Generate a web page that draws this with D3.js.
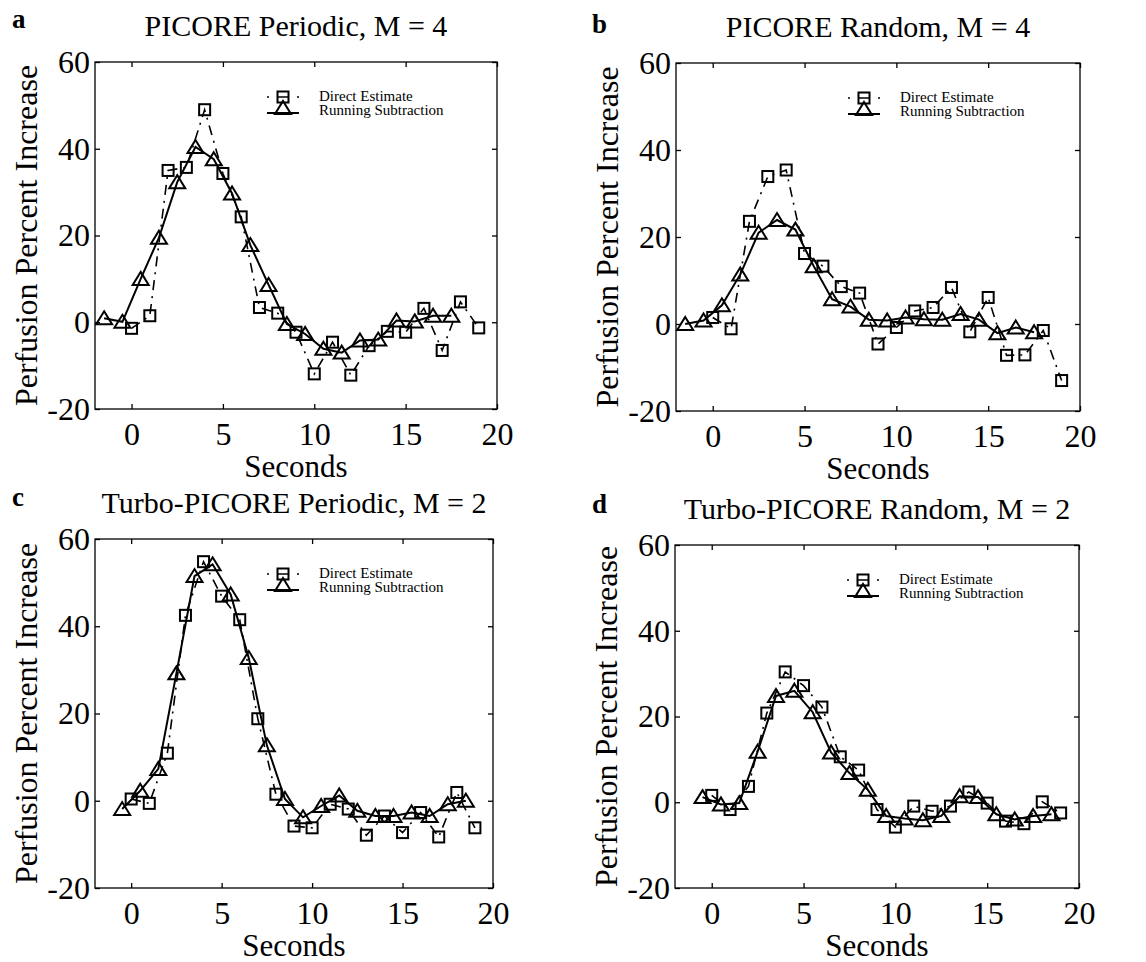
<!DOCTYPE html>
<html>
<head>
<meta charset="utf-8">
<script src="https://cdn.jsdelivr.net/npm/d3@7"></script>
<style>
  body { margin: 0; background: #fff; }
  svg { display: block; }
</style>
</head>
<body>
<div id="chart"></div>
<script>
// time points (seconds)
const timesDirect = [0, 1, 2, 3, 4, 5, 6, 7, 8, 9, 10, 11, 12, 13, 14, 15, 16, 17, 18, 19];
const timesRunningM4 = [-1.5, -0.5, 0.5, 1.5, 2.5, 3.5, 4.5, 5.5, 6.5, 7.5, 8.5, 9.5, 10.5, 11.5, 12.5, 13.5, 14.5, 15.5, 16.5, 17.5];
const timesRunningM2 = [-0.5, 0.5, 1.5, 2.5, 3.5, 4.5, 5.5, 6.5, 7.5, 8.5, 9.5, 10.5, 11.5, 12.5, 13.5, 14.5, 15.5, 16.5, 17.5, 18.5];

// a: PICORE Periodic, M = 4
const directA = [-1.4, 1.5, 35, 35.7, 49, 34.3, 24.3, 3.4, 2.1, -2.3, -11.9, -4.6, -12.2, -5.4, -2.1, -2.3, 3.2, -6.5, 4.7, -1.3];
const runningA = [0.9, 0.1, 10, 19.5, 32.3, 40.4, 37.6, 29.7, 17.8, 8.6, -0.4, -2.7, -6.1, -7, -4.2, -4, 0.4, 0.2, 1.5, 1.5];

// b: PICORE Random, M = 4
const directB = [1.5, -1.1, 23.6, 33.9, 35.4, 16.2, 13.3, 8.6, 7.1, -4.6, -0.8, 3, 3.8, 8.4, -1.8, 6.1, -7.2, -7.1, -1.5, -13];
const runningB = [0, 0.8, 4.3, 11.4, 21, 23.9, 21.7, 13.3, 5.7, 4, 1, 0.8, 1.5, 1.1, 1, 2.3, 1, -2.1, -0.8, -1.9];

// c: Turbo-PICORE Periodic, M = 2
const directC = [0.4, -0.6, 10.9, 42.5, 54.8, 46.9, 41.5, 18.8, 1.5, -5.8, -6.2, -0.8, -1.9, -7.9, -3.5, -7.3, -2.7, -8.3, 1.9, -6.2];
const runningC = [-1.9, 2.3, 7.3, 29.2, 51.5, 54.2, 47.3, 32.7, 12.7, 0.4, -3.8, -1.2, 1.2, -2.3, -3.5, -3.5, -2.7, -3.5, -0.8, 0];

// d: Turbo-PICORE Random, M = 2
const directD = [1.6, -1.7, 3.7, 20.8, 30.4, 27.2, 22.2, 10.6, 7.5, -1.7, -5.8, -0.9, -2.1, -0.9, 2.4, -0.2, -4.4, -5, 0.1, -2.5];
const runningD = [1.2, -0.5, -0.2, 11.8, 24.8, 26, 21, 11.6, 6.8, 2.9, -3.2, -3.8, -4.2, -3.2, 1.4, 1.2, -2.8, -4, -3.2, -2.8];

const panelLetters = ["a", "b", "c", "d"];
const panelTitles = ["PICORE Periodic, M = 4", "PICORE Random, M = 4", "Turbo-PICORE Periodic, M = 2", "Turbo-PICORE Random, M = 2"];
const xTicks = [0, 5, 10, 15, 20];
const yTicks = [-20, 0, 20, 40, 60];
const legendLabels = ["Direct Estimate", "Running Subtraction"];
const xLabel = "Seconds";
const yLabel = "Perfusion Percent Increase";

const serif = "'Liberation Serif', 'Times New Roman', serif";
const width = 1146, height = 962;

const svg = d3.select("#chart").append("svg")
    .attr("width", width)
    .attr("height", height);

svg.append("rect")
    .attr("width", width)
    .attr("height", height)
    .attr("fill", "#fff");

const panels = [
    {letter: panelLetters[0], title: panelTitles[0], tD: timesDirect, vD: directA, tR: timesRunningM4, vR: runningA,
     left: 95, right: 497, top: 62, bottom: 409, lx: 12, ly: 28},
    {letter: panelLetters[1], title: panelTitles[1], tD: timesDirect, vD: directB, tR: timesRunningM4, vR: runningB,
     left: 676, right: 1080, top: 63, bottom: 411, lx: 592, ly: 33},
    {letter: panelLetters[2], title: panelTitles[2], tD: timesDirect, vD: directC, tR: timesRunningM2, vR: runningC,
     left: 95, right: 493, top: 539, bottom: 888, lx: 12, ly: 506},
    {letter: panelLetters[3], title: panelTitles[3], tD: timesDirect, vD: directD, tR: timesRunningM2, vR: runningD,
     left: 675, right: 1079, top: 545, bottom: 888, lx: 592, ly: 513}
];

function square(g, cx, cy) {
    g.append("rect")
        .attr("x", cx - 5.5)
        .attr("y", cy - 5.5)
        .attr("width", 11)
        .attr("height", 11)
        .attr("fill", "none")
        .attr("stroke", "black")
        .attr("stroke-width", 2);
}

function triangle(g, cx, cy) {
    g.append("path")
        .attr("d", "M0,-7L8,6L-8,6Z")
        .attr("transform", `translate(${cx},${cy})`)
        .attr("fill", "none")
        .attr("stroke", "black")
        .attr("stroke-width", 2);
}

function drawPanel(p) {
    const x = d3.scaleLinear().domain([-2, 20]).range([p.left, p.right]);
    const y = d3.scaleLinear().domain([-20, 60]).range([p.bottom, p.top]);
    const g = svg.append("g");

    // panel letter + title
    g.append("text")
        .attr("x", p.lx)
        .attr("y", p.ly)
        .attr("font-family", serif)
        .attr("font-weight", "bold")
        .attr("font-size", 27)
        .text(p.letter);

    g.append("text")
        .attr("x", (p.left + p.right) / 2)
        .attr("y", p.top - 26)
        .attr("text-anchor", "middle")
        .attr("font-family", serif)
        .attr("font-size", 30)
        .text(p.title);

    // axes, ticks pointing inward on all four sides
    const fmt = d => String(d);
    const bottomAxis = g.append("g")
        .attr("transform", `translate(0,${p.bottom})`)
        .call(d3.axisBottom(x).tickValues(xTicks).tickSize(-5).tickSizeOuter(0).tickFormat(fmt));
    bottomAxis.selectAll("text").attr("y", 36).attr("dy", null);

    const leftAxis = g.append("g")
        .attr("transform", `translate(${p.left},0)`)
        .call(d3.axisLeft(y).tickValues(yTicks).tickSize(-5).tickSizeOuter(0).tickPadding(5).tickFormat(fmt));

    g.append("g")
        .attr("transform", `translate(0,${p.top})`)
        .call(d3.axisTop(x).tickValues(xTicks).tickSize(-5).tickSizeOuter(0).tickFormat(""));
    g.append("g")
        .attr("transform", `translate(${p.right},0)`)
        .call(d3.axisRight(y).tickValues(yTicks).tickSize(-5).tickSizeOuter(0).tickFormat(""));

    g.selectAll(".domain").remove();
    g.selectAll(".tick line").attr("stroke-width", 1.3);
    [bottomAxis, leftAxis].forEach(a => a.selectAll("text")
        .attr("font-family", serif)
        .attr("font-size", 32)
        .attr("fill", "black"));

    g.append("rect")
        .attr("x", p.left)
        .attr("y", p.top)
        .attr("width", p.right - p.left)
        .attr("height", p.bottom - p.top)
        .attr("fill", "none")
        .attr("stroke", "black")
        .attr("stroke-width", 1.3);

    // axis labels
    g.append("text")
        .attr("x", (p.left + p.right) / 2)
        .attr("y", p.bottom + 68)
        .attr("text-anchor", "middle")
        .attr("font-family", serif)
        .attr("font-size", 31)
        .text(xLabel);

    g.append("text")
        .attr("transform", `translate(${p.left - 58},${(p.top + p.bottom) / 2}) rotate(-90)`)
        .attr("text-anchor", "middle")
        .attr("font-family", serif)
        .attr("font-size", 32)
        .text(yLabel);

    // series
    const direct = p.tD.map((t, i) => [t, p.vD[i]]);
    const running = p.tR.map((t, i) => [t, p.vR[i]]);
    const line = d3.line().x(d => x(d[0])).y(d => y(d[1]));

    g.append("path")
        .datum(direct)
        .attr("d", line)
        .attr("fill", "none")
        .attr("stroke", "black")
        .attr("stroke-width", 1.6)
        .attr("stroke-dasharray", "10,6,2,6");

    g.append("path")
        .datum(running)
        .attr("d", line)
        .attr("fill", "none")
        .attr("stroke", "black")
        .attr("stroke-width", 2);

    direct.forEach(d => square(g, x(d[0]), y(d[1])));
    running.forEach(d => triangle(g, x(d[0]), y(d[1])));

    // legend
    const lx0 = p.left + 172, lx1 = p.left + 204, lm = p.left + 188;
    g.append("line")
        .attr("x1", lx0).attr("x2", lx1)
        .attr("y1", p.top + 35).attr("y2", p.top + 35)
        .attr("stroke", "black")
        .attr("stroke-width", 1.6)
        .attr("stroke-dasharray", "2,9,10,9");
    square(g, lm, p.top + 35);
    g.append("line")
        .attr("x1", lx0).attr("x2", lx1)
        .attr("y1", p.top + 51).attr("y2", p.top + 51)
        .attr("stroke", "black")
        .attr("stroke-width", 2);
    triangle(g, lm, p.top + 46);

    legendLabels.forEach((label, i) => {
        g.append("text")
            .attr("x", p.left + 224)
            .attr("y", p.top + 39 + i * 14)
            .attr("font-family", serif)
            .attr("font-size", 15)
            .text(label);
    });
}

panels.forEach(drawPanel);
</script>
</body>
</html>
